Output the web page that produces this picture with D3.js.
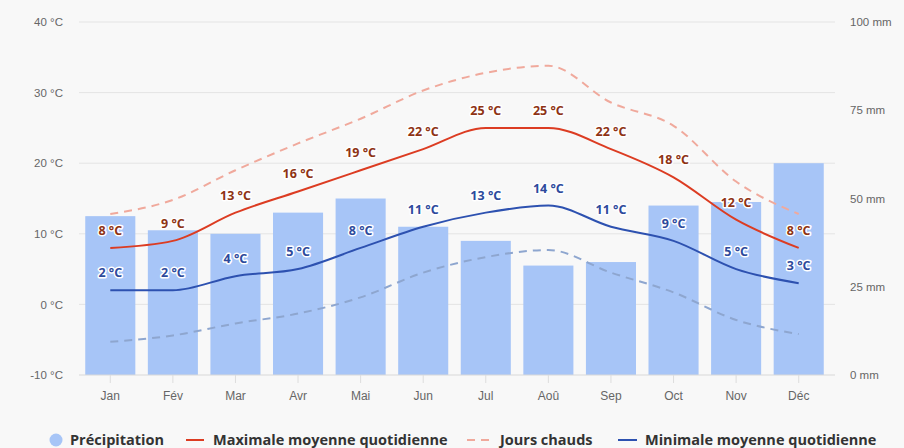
<!DOCTYPE html>
<html lang="fr">
<head>
<meta charset="utf-8">
<title>Climat</title>
<style>
  body { margin: 0; background: #f8f8f8; }
  svg { display: block; font-family: "Open Sans", sans-serif; }
  .grid line { stroke: #e4e4e4; }
  .axis text { fill: #666; font-size: 11.5px; }
  .lbl { font-size: 12.5px; font-weight: bold; paint-order: stroke; stroke: #fff; stroke-width: 3px; stroke-linejoin: round; }
  .legend text { font-size: 14.5px; font-weight: bold; fill: #333; }
</style>
</head>
<body>
<svg width="904" height="448"></svg>
<script src="https://d3js.org/d3.v7.min.js"></script>
<script>
var months = ["Jan", "Fév", "Mar", "Avr", "Mai", "Jun", "Jul", "Aoû", "Sep", "Oct", "Nov", "Déc"];
var precip = [45, 41, 40, 46, 50, 42, 38, 31, 32, 48, 49, 60];
var tMax = [8, 9, 13, 16, 19, 22, 25, 25, 22, 18, 12, 8];
var tMin = [2, 2, 4, 5, 8, 11, 13, 14, 11, 9, 5, 3];
var hotDays = [12.8, 14.8, 19, 22.8, 26.3, 30.3, 32.8, 33.8, 28.6, 25.3, 17.4, 12.8];
var coldNights = [-5.3, -4.4, -2.7, -1.3, 1, 4.5, 6.7, 7.7, 4.5, 1.7, -2.2, -4.2];
var tempTicks = [-10, 0, 10, 20, 30, 40];
var mmTicks = [0, 25, 50, 75, 100];

var svg = d3.select("svg");
var x0 = 79, x1 = 830, yTop = 22, yBot = 375;

var x = d3.scaleBand().domain(months).range([x0, x1]).paddingInner(0.2).paddingOuter(0.1);
var yT = d3.scaleLinear().domain([-10, 40]).range([yBot, yTop]);
var yP = d3.scaleLinear().domain([0, 100]).range([yBot, yTop]);
var cx = function(i) { return x(months[i]) + x.bandwidth() / 2; };

// gridlines
svg.append("g").attr("class", "grid")
   .selectAll("line").data(tempTicks.slice(1)).enter().append("line")
   .attr("x1", x0).attr("x2", x1 + 5)
   .attr("y1", function(d) { return yT(d); }).attr("y2", function(d) { return yT(d); });

// bars
svg.selectAll("rect.bar").data(precip).enter().append("rect")
   .attr("class", "bar")
   .attr("x", function(d, i) { return x(months[i]); })
   .attr("width", x.bandwidth())
   .attr("y", function(d) { return yP(d); })
   .attr("height", function(d) { return yBot - yP(d); })
   .attr("fill", "#a7c5f7");

// base axis
svg.append("line").attr("x1", x0).attr("x2", x1 + 5).attr("y1", yBot).attr("y2", yBot)
   .attr("stroke", "#d8d8d8");

var xAxis = svg.append("g").attr("class", "axis")
   .attr("transform", "translate(0," + yBot + ")")
   .call(d3.axisBottom(x).tickSize(8).tickPadding(8));
xAxis.select(".domain").remove();
xAxis.selectAll("line").attr("stroke", "#ddd");
xAxis.selectAll("text").style("font-size", "12px");

var yAxisL = svg.append("g").attr("class", "axis")
   .attr("transform", "translate(63,0)")
   .call(d3.axisLeft(yT).tickValues(tempTicks).tickSize(0).tickPadding(0)
     .tickFormat(function(d) { return d + " °C"; }));
yAxisL.select(".domain").remove();

var yAxisR = svg.append("g").attr("class", "axis")
   .attr("transform", "translate(850,0)")
   .call(d3.axisRight(yP).tickValues(mmTicks).tickSize(0).tickPadding(0)
     .tickFormat(function(d) { return d + " mm"; }));
yAxisR.select(".domain").remove();

var line = d3.line()
   .x(function(d, i) { return cx(i); })
   .y(function(d) { return yT(d); })
   .curve(d3.curveMonotoneX);

svg.append("path").attr("d", line(coldNights)).attr("fill", "none")
   .attr("stroke", "#8ea6cf").attr("stroke-width", 2).attr("stroke-dasharray", "8,6");
svg.append("path").attr("d", line(hotDays)).attr("fill", "none")
   .attr("stroke", "#f0a99c").attr("stroke-width", 2).attr("stroke-dasharray", "8,6");
svg.append("path").attr("d", line(tMin)).attr("fill", "none")
   .attr("stroke", "#2d51b0").attr("stroke-width", 2);
svg.append("path").attr("d", line(tMax)).attr("fill", "none")
   .attr("stroke", "#dc3c22").attr("stroke-width", 2);

// value labels
function labels(data, color) {
  svg.append("g").selectAll("text").data(data).enter().append("text")
     .attr("class", "lbl")
     .attr("x", function(d, i) { return cx(i); })
     .attr("y", function(d) { return yT(d) - 13; })
     .attr("text-anchor", "middle")
     .attr("fill", color)
     .text(function(d) { return d + " °C"; });
}
labels(tMax, "#8e3314");
labels(tMin, "#2d4a9c");

// legend
var lg = svg.append("g").attr("class", "legend").attr("transform", "translate(0,440)");
lg.append("circle").attr("cx", 56).attr("cy", 0).attr("r", 6.5).attr("fill", "#a7c5f7");
lg.append("text").attr("x", 70).attr("y", 5).text("Précipitation");
lg.append("line").attr("x1", 186).attr("x2", 204).attr("y1", 0).attr("y2", 0)
  .attr("stroke", "#dc3c22").attr("stroke-width", 2);
lg.append("text").attr("x", 213).attr("y", 5).text("Maximale moyenne quotidienne");
lg.append("line").attr("x1", 467).attr("x2", 489).attr("y1", 0).attr("y2", 0)
  .attr("stroke", "#f0a99c").attr("stroke-width", 2).attr("stroke-dasharray", "8,6");
lg.append("text").attr("x", 500).attr("y", 5).text("Jours chauds");
lg.append("line").attr("x1", 618).attr("x2", 637).attr("y1", 0).attr("y2", 0)
  .attr("stroke", "#2d51b0").attr("stroke-width", 2);
lg.append("text").attr("x", 645).attr("y", 5).text("Minimale moyenne quotidienne");
</script>
</body>
</html>
